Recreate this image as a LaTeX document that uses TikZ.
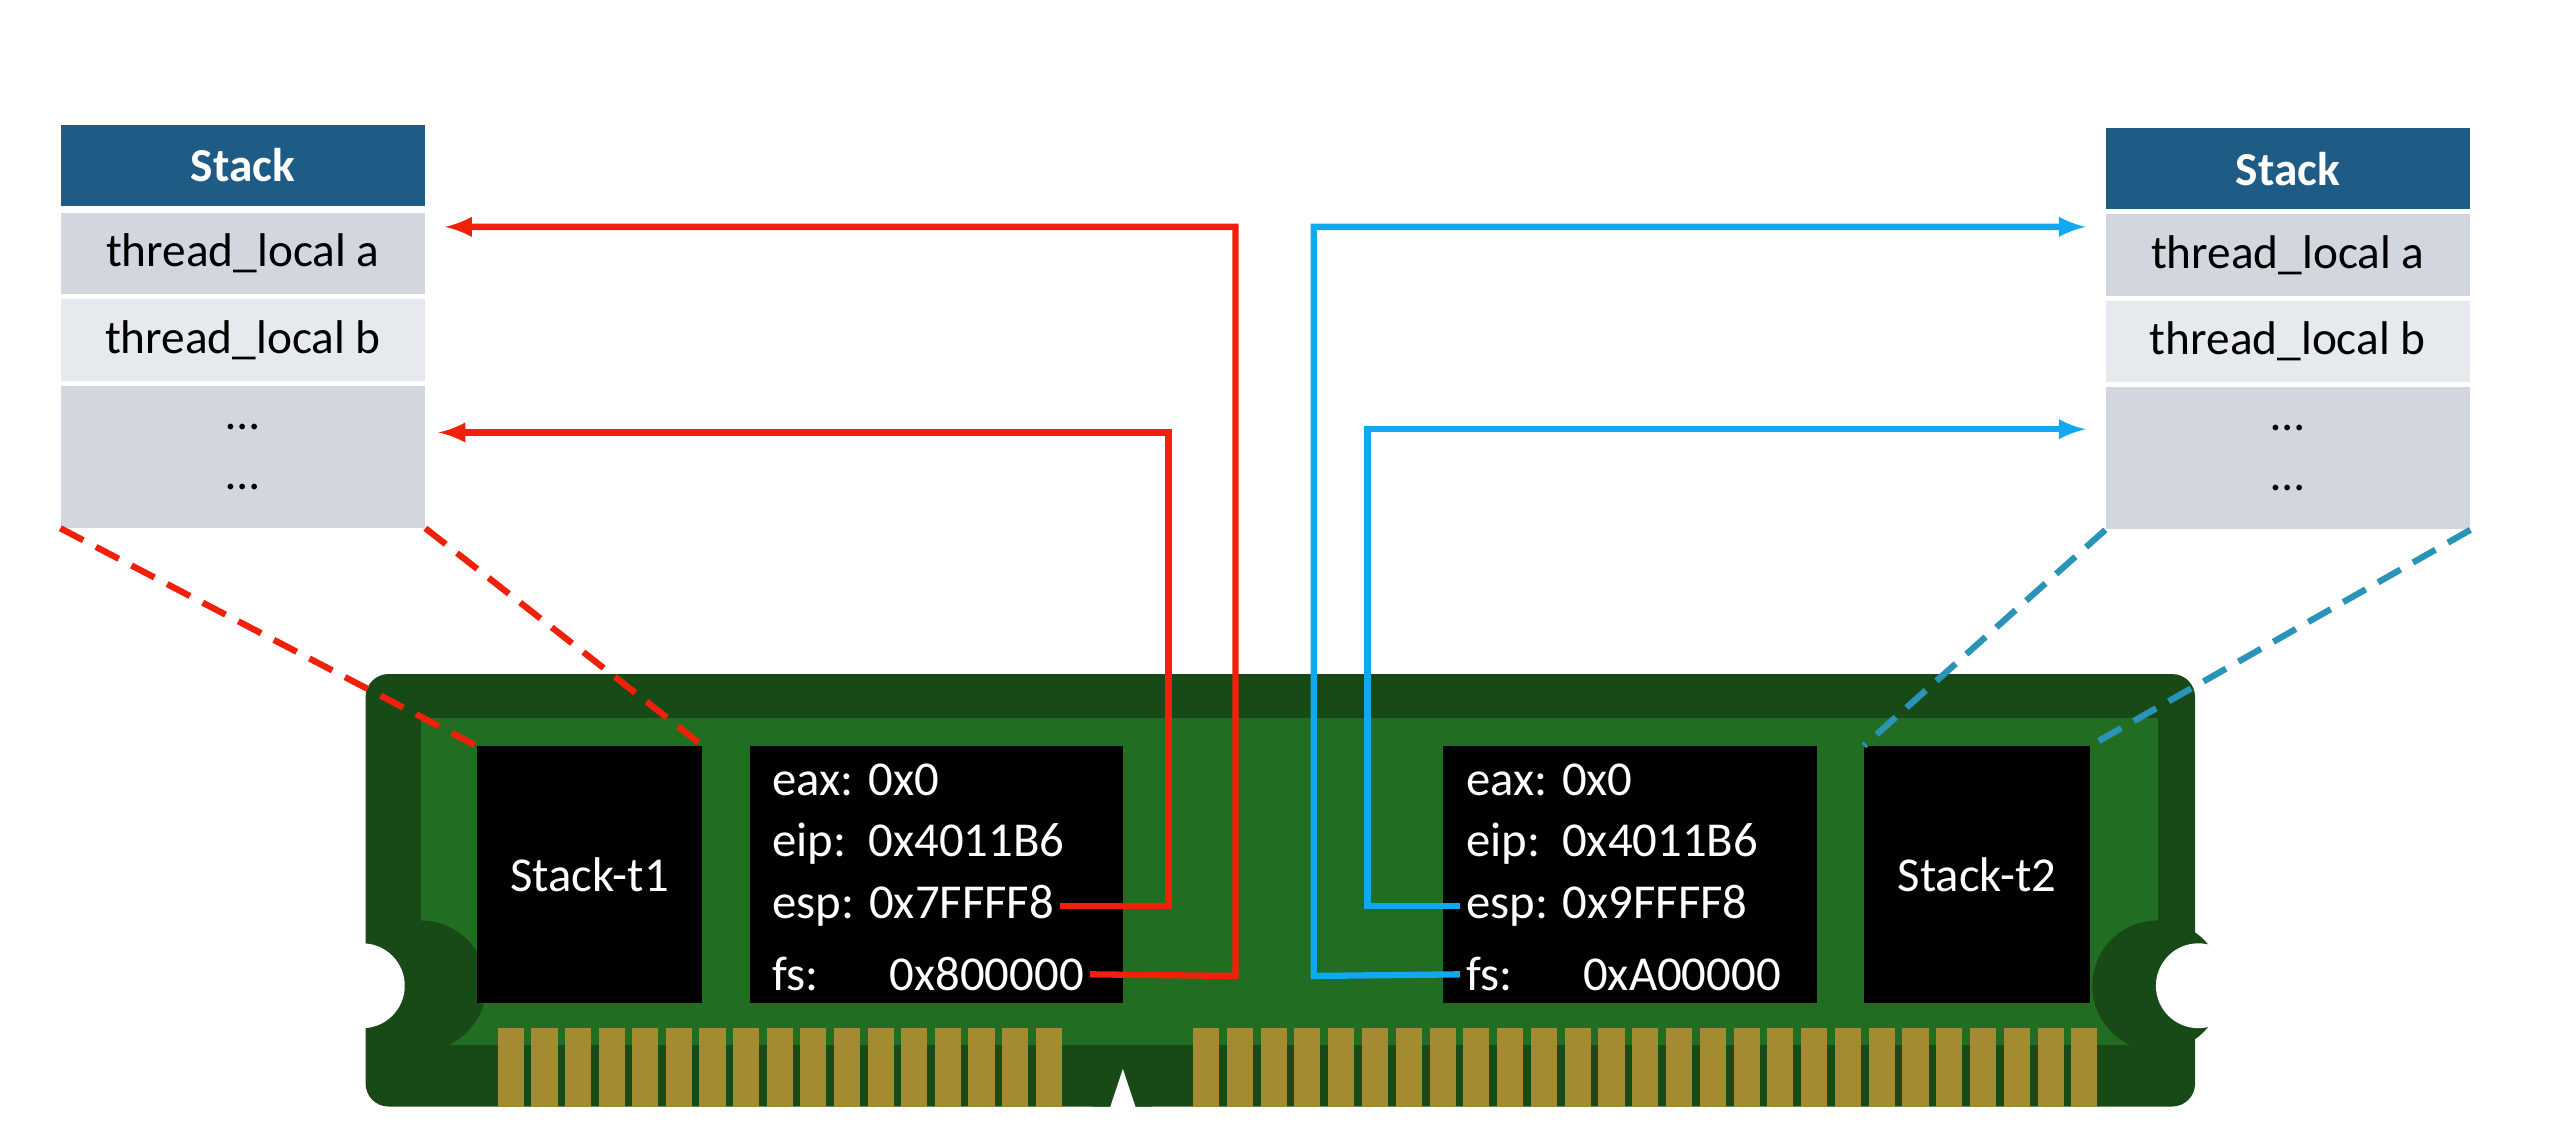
\documentclass[tikz,border=0pt]{standalone}
\usepackage{fontspec}
\setmainfont{Carlito}
\usetikzlibrary{positioning}
\definecolor{hdblue}{HTML}{1F5C85}
\definecolor{rowa}{HTML}{D2D6DE}
\definecolor{rowb}{HTML}{E6E9ED}
\definecolor{pcbdark}{HTML}{174A17}
\definecolor{pcb}{HTML}{216E22}
\definecolor{pingold}{HTML}{A48A30}
\definecolor{lred}{HTML}{F0200A}
\definecolor{lblue}{HTML}{10A8EE}
\definecolor{dblue}{HTML}{2A93B8}
\begin{document}
\begin{tikzpicture}[x=0.02cm,y=-0.02cm,>=latex,
  cell/.style={minimum width=4.46cm,minimum height=1cm,inner sep=0pt,anchor=north west,font=\fontsize{16.5}{19}\selectfont},
  head/.style={cell,fill=hdblue,text=white,font=\fontsize{16.5}{19}\selectfont\bfseries},
  chip/.style={fill=black,text=white,inner sep=0pt,anchor=north west,minimum height=3.14cm,font=\fontsize{17}{20}\selectfont},
  reg/.style={text=white,anchor=west,inner sep=0pt,font=\fontsize{17}{20}\selectfont},
  dashln/.style={line width=2.2pt,dash pattern=on 9pt off 5pt},
  link/.style={line width=2.2pt,->}]
   \useasboundingbox (0,0) rectangle (1568,694);
   % 板
   \fill[pcbdark,rounded corners=8] (224,413) rectangle (1345,678);
   \fill[pcb] (258,440) rectangle (1322,640);
   \fill[pcbdark] (258,604) circle (40);
   \fill[pcbdark] (1322,604) circle (40);
   \fill[white] (222,604) circle (26);
   \fill[white] (1347,604) circle (26);
   \fill[pcbdark] (670,678) -- (670,650) arc (180:0:18) -- (706,678) -- cycle;
   \fill[white] (680,679) -- (688,655) -- (696,679) -- cycle;
   \foreach \i in {0,...,16}
     \fill[pingold] (305+20.6*\i,630) rectangle ++(16,48);
   \foreach \i in {0,...,26}
     \fill[pingold] (731+20.7*\i,630) rectangle ++(16,48);
   % チップ
   \node[chip,minimum width=2.76cm] (t1) at (292,457) {Stack-t1};
   \node[chip,minimum width=4.58cm] (r1) at (459,457) {};
   \node[chip,minimum width=4.58cm] (r2) at (884,457) {};
   \node[chip,minimum width=2.76cm] (t2) at (1142,457) {Stack-t2};
   \node[reg] (eax1) at (473,478) {eax: 0x0};
   \node[reg] (eip1) at (473,517) {eip:\ \ 0x4011B6};
   \node[reg] (esp1) at (473,555) {esp: 0x7FFFF8};
   \node[reg] (fs1) at (473,597) {fs:\quad\ \ 0x800000};
   \node[reg] (eax2) at (898,478) {eax: 0x0};
   \node[reg] (eip2) at (898,517) {eip:\ \ 0x4011B6};
   \node[reg] (esp2) at (898,555) {esp: 0x9FFFF8};
   \node[reg] (fs2) at (898,597) {fs:\quad\ \ 0xA00000};
   % スタック
   \node[head] (h1) at (37,76) {Stack};
   \node[cell,fill=rowa] (a1) at (37,130) {thread\_local a};
   \node[cell,fill=rowb] (b1) at (37,183) {thread\_local b};
   \node[cell,fill=rowa,minimum height=1.74cm,align=center] (d1) at (37,236) {…\\[2pt]…};
   \node[head] (h2) at (1290,78) {Stack};
   \node[cell,fill=rowa] (a2) at (1290,131) {thread\_local a};
   \node[cell,fill=rowb] (b2) at (1290,184) {thread\_local b};
   \node[cell,fill=rowa,minimum height=1.74cm,align=center] (d2) at (1290,237) {…\\[2pt]…};
   % 破線
   \draw[lred,dashln] (d1.south west) -- (t1.north west);
   \draw[lred,dashln] (d1.south east) -- (t1.north east);
   \draw[dblue,dashln] (d2.south west) -- (t2.north west);
   \draw[dblue,dashln] (d2.south east) -- (t2.north east);
   % 矢印
   \draw[link,lred] ([xshift=2pt]esp1.east) -- (716,555) |- ([xshift=0.16cm]d1.north east |- 0,265);
   \draw[link,lred] ([xshift=2pt]fs1.east) -- (757,598) |- ([xshift=0.24cm]a1.east |- 0,139);
   \draw[link,lblue] ([xshift=-2pt]esp2.west) -- (838,555) |- ([xshift=-0.24cm]d2.north west |- 0,263);
   \draw[link,lblue] ([xshift=-2pt]fs2.west) -- (805,598) |- ([xshift=-0.24cm]a2.west |- 0,139);
\end{tikzpicture}
\end{document}
